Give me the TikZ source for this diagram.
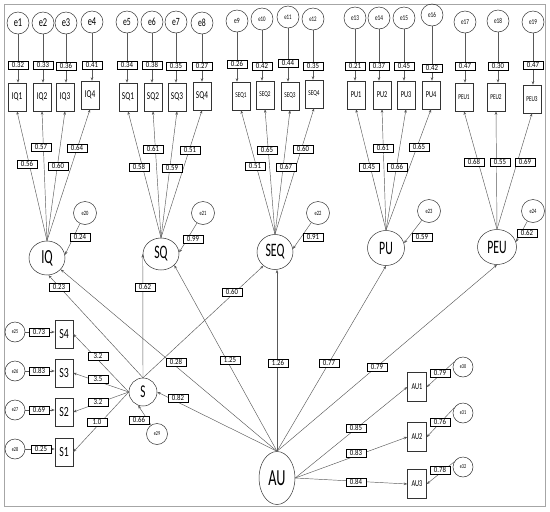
\documentclass[tikz,border=0pt]{standalone}
\usepackage{fontspec}
\setmainfont{Carlito}
\newfontfamily\cf[FakeStretch=0.7]{Carlito}
\newfontfamily\latf[FakeStretch=0.62]{Carlito}
\newfontfamily\lf[FakeStretch=0.85]{Carlito}
\usetikzlibrary{shapes.geometric,arrows.meta}
\newcommand{\fsz}[1]{\fontsize{#1}{#1}\selectfont}
\begin{document}
\begin{tikzpicture}[x=1pt,y=-1pt,
  ln/.style={draw=black!65, line width=0.45pt},
  arr/.style={ln, -{Stealth[length=3.5pt,width=2.6pt]}},
  err/.style={circle, draw=black!80, line width=0.5pt, inner sep=0pt, minimum size=22pt},
  obs/.style={rectangle, draw=black!80, line width=0.5pt, inner sep=0pt, minimum width=18pt, minimum height=28pt},
  lat/.style={ellipse, draw=black!80, line width=0.5pt, inner sep=0pt, minimum width=36pt, minimum height=34pt, font=\latf\fsz{19}},
  lbl/.style={draw=black, fill=white, line width=0.5pt, inner xsep=2pt, inner ysep=0.8pt, minimum width=20pt, minimum height=8.5pt, font=\lf\fsz{8}},
]
\useasboundingbox (0,0) rectangle (550,512);
\draw[black!35, line width=1pt] (4,4) rectangle (545,506);

% top error terms
\foreach \va/\vx/\vy/\vf in {e1/18/23/12, e2/43/23/12, e3/66/23/12, e4/92/22/12, e5/127/22/11, e6/152/22/11, e7/176/22/11, e8/202/23/11, e9/237/21/8, e10/262/19/7, e11/288/17/7, e12/313/19/7, e13/355/18/7.5, e14/379/18/7.5, e15/404/18/7.5, e16/432/15/7.5, e17/465/22/7.5, e18/498/21/7.5, e19/533/22/7.5}
  \node[err, font=\cf\fsz{\vf}] (\va) at (\vx,\vy) {\va};

% top indicators
\foreach \va/\vx/\vy/\vf in {IQ1/17/97/10.5, IQ2/42/97/10.5, IQ3/65/97/10.5, IQ4/90/95/10.5, SQ1/128/97/10.5, SQ2/153/97/10.5, SQ3/177/97/10.5, SQ4/202/96/10.5, SEQ1/241/96/7.5, SEQ2/265/95/7.5, SEQ3/290/96/7.5, SEQ4/314/94/7.5, PU1/356/95/9, PU2/382/95/9, PU3/406/95/9, PU4/431/95/9, PEU1/464/97/7.5, PEU2/496/97/7.5, PEU3/532/99/7.5}
  \node[obs, font=\cf\fsz{\vf}] (\va) at (\vx,\vy) {\va};

% latent variables
\node[lat, font=\latf\fsz{20}] (IQ) at (47,258) {IQ};
\node[lat, minimum height=32pt] (SQ) at (161,254) {SQ};
\node[lat, minimum height=35pt] (SEQ) at (275,252) {SEQ};
\node[lat, minimum width=37pt, minimum height=35pt] (PU) at (386,248) {PU};
\node[lat, minimum width=39pt, minimum height=35pt] (PEU) at (497,247) {PEU};
\node[circle, draw=black!80, line width=0.5pt, inner sep=0pt, minimum size=28pt, font=\latf\fsz{18}] (S) at (143,392) {S};
\node[lat, minimum width=36pt, minimum height=53pt, font=\latf\fsz{23}] (AU) at (277,478) {AU};

% latent error terms
\foreach \va/\vx/\vy in {e20/85/213, e21/203/213, e22/318/213, e23/429/211, e24/533/211}
  \node[err, minimum size=23pt, font=\cf\fsz{6.5}] (\va) at (\vx,\vy) {\va};

% S indicators
\foreach \va/\vy in {S4/334, S3/373, S2/412, S1/452}
  \node[obs, font=\cf\fsz{14}] (\va) at (64,\vy) {\va};
\foreach \va/\vy in {e25/332, e26/371, e27/410, e28/449}
  \node[err, minimum size=20pt, font=\cf\fsz{6}] (\va) at (15,\vy) {\va};
\node[err, minimum size=21pt, font=\cf\fsz{6}] (e29) at (157,434) {e29};

% AU indicators
\foreach \va/\vy in {AU1/387, AU2/437, AU3/484}
  \node[obs, minimum width=19pt, minimum height=29pt, font=\cf\fsz{9}] (\va) at (417,\vy) {\va};
\foreach \va/\vy in {e30/367, e31/413, e32/467}
  \node[err, minimum size=20pt, font=\cf\fsz{6}] (\va) at (463,\vy) {\va};

% ---- connectors ----
\foreach \va/\vb in {e1/IQ1, e2/IQ2, e3/IQ3, e4/IQ4, e5/SQ1, e6/SQ2, e7/SQ3, e8/SQ4, e9/SEQ1, e10/SEQ2, e11/SEQ3, e12/SEQ4, e13/PU1, e14/PU2, e15/PU3, e16/PU4, e17/PEU1, e18/PEU2, e19/PEU3}
  \draw[arr] (\va.south) -- (\va.south |- \vb.north);

\foreach \va/\vb in {IQ/IQ1, IQ/IQ2, IQ/IQ3, IQ/IQ4, SQ/SQ1, SQ/SQ2, SQ/SQ3, SQ/SQ4, SEQ/SEQ1, SEQ/SEQ2, SEQ/SEQ3, SEQ/SEQ4, PU/PU1, PU/PU2, PU/PU3, PU/PU4, PEU/PEU1, PEU/PEU2, PEU/PEU3}
  \draw[arr] (\va.north) -- (\vb.south);

\draw[arr] (e20) -- (IQ.10);
\draw[arr] (e21) -- (SQ.5);
\draw[arr] (e22) -- (SEQ.10);
\draw[arr] (e23) -- (PU.15);
\draw[arr] (e24) -- (PEU.15);

\draw[arr] (S.north) -- (IQ.-85);
\draw[arr] (S.north) -- (SQ.west);
\draw[arr] (S.north) -- (SEQ.-130);
\foreach \va in {S4, S3, S2, S1}
  \draw[arr] (S.west) -- (\va.east);
\foreach \va/\vb in {e25/S4, e26/S3, e27/S2, e28/S1}
  \draw[arr] (\va.east) -- (\va.east -| \vb.west);
\draw[arr] (e29) -- (S.-110);

\draw[arr] (AU.north) -- (IQ.-40);
\draw[arr] (AU.north) -- (SQ.-40);
\draw[arr] (AU.north) -- (AU.north |- SEQ.south);
\draw[arr] (AU.north) -- (PU.south);
\draw[arr] (AU.north) -- (PEU.south);
\draw[arr] (AU.north) -- (S.east);
\foreach \va in {AU1, AU2, AU3}
  \draw[arr] (AU.east) -- (\va.west);
\draw[arr] (e30.150) -- (AU1.east);
\draw[arr] (e31.150) -- (AU2.east);
\draw[arr] (e32.150) -- (AU3.east);

% ---- labels ----
\foreach \va/\vc/\vy in {e1/0.32/65, e2/0.33/65, e3/0.36/66, e4/0.41/65, e5/0.34/65, e6/0.38/65, e7/0.35/66, e8/0.27/66, e9/0.26/64, e10/0.42/66, e11/0.44/63, e12/0.35/66, e13/0.21/66, e14/0.37/66, e15/0.45/66, e16/0.42/68, e17/0.47/66, e18/0.30/66, e19/0.47/65}
  \node[lbl] (L\va) at (\va.south |- 0,\vy) {\vc};

\foreach \vn/\vc/\vx/\vy in {a1/0.56/27/164, a2/0.57/41/147, a3/0.60/58/166, a4/0.64/77/148,
  b1/0.58/139/167, b2/0.61/153/149, b3/0.59/172/168, b4/0.51/190/150,
  c1/0.51/255/166, c2/0.65/267/150, c3/0.67/286/167, c4/0.60/303/149,
  d1/0.45/369/167, d2/0.61/383/148, d3/0.66/397/167, d4/0.65/419/147,
  f1/0.68/474/162, f2/0.55/500/162, f3/0.69/525/162,
  g1/0.24/80/237, g2/0.99/193/239, g3/0.91/313/237, g4/0.59/422/237, g5/0.62/527/233,
  h1/0.73/39/332, h2/0.83/39/371, h3/0.69/39/410, h4/0.25/41/449,
  k1/3.2/98/356, k2/3.5/98/379, k3/3.2/98/402, k4/1.0/97/422, k5/0.66/139/420,
  m1/0.23/59/287, m2/0.62/145/287, m3/0.60/232/292,
  n1/0.28/176/362, n2/1.25/230/360, n3/1.26/278/363, n4/0.77/329/363, n5/0.79/377/367, n6/0.82/178/398,
  p1/0.85/356/428, p2/0.83/356/453, p3/0.84/356/482,
  q1/0.79/440/373, q2/0.76/440/422, q3/0.78/440/470}
  \node[lbl] (\vn) at (\vx,\vy) {\vc};
\end{tikzpicture}
\end{document}
